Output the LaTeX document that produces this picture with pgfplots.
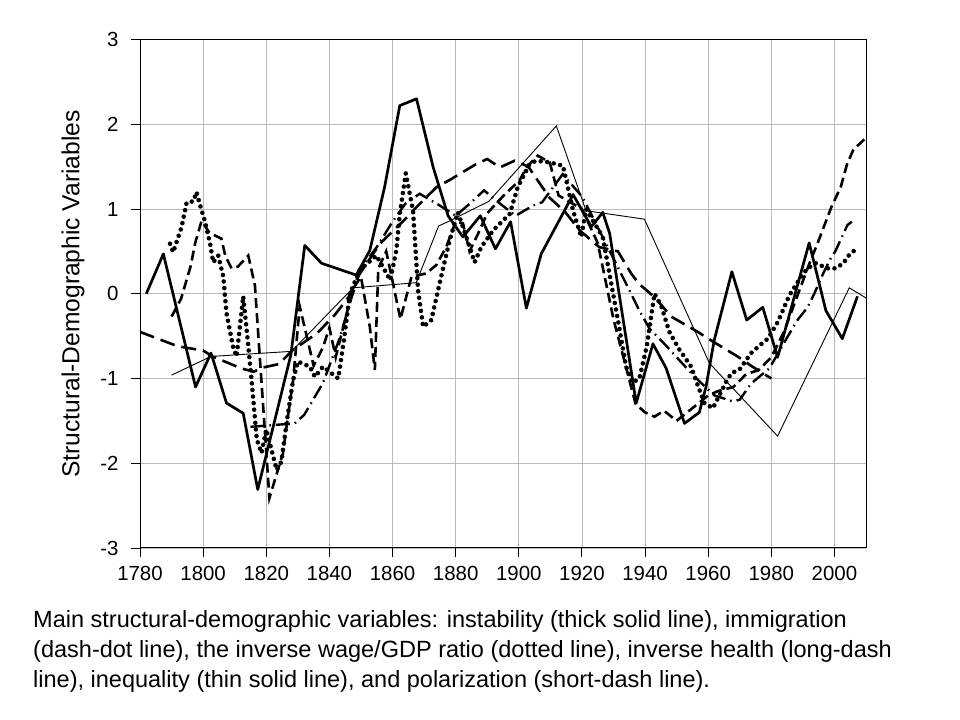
\documentclass[border=0pt]{standalone}
\usepackage{fontspec}
\setmainfont{Liberation Sans}
\usepackage{pgfplots}
\pgfplotsset{compat=1.18}
\begin{document}
\begin{tikzpicture}
\path[use as bounding box] (0,0) rectangle (960bp,720bp);
\begin{axis}[
  at={(140bp,172bp)}, anchor=south west,
  scale only axis, width=726bp, height=508.5bp,
  xmin=1780, xmax=2010, ymin=-3, ymax=3,
  xtick={1780,1800,...,2000},
  xticklabels={1780,1800,1820,1840,1860,1880,1900,1920,1940,1960,1980,2000},
  ytick={-3,-2,...,3},
  yticklabels={-3,-2,-1,0,1,2,3},
  xtick pos=left, ytick pos=left,
  tick align=outside, major tick length=9bp,
  tick style={black, line width=0.9bp},
  axis line style={black, line width=1bp},
  grid=major, major grid style={gray!55, line width=0.8bp},
  ticklabel style={font=\fontsize{20.5}{24}\selectfont},
  xticklabel style={anchor=base, yshift=-24bp},
  yticklabel style={anchor=east, xshift=-9bp},
  clip=true,
]
% instability: thick solid
\addplot[black, line width=2.7bp, line join=round] coordinates {
(1782,0.0)(1787.4,0.47)(1797.6,-1.10)(1802.5,-0.70)(1807.4,-1.29)(1812.7,-1.41)(1817.3,-2.31)(1827.8,-0.72)(1832.2,0.57)(1837.5,0.36)(1848.5,0.22)(1852.8,0.51)(1857.5,1.26)(1862.3,2.22)(1867.6,2.30)(1872.9,1.49)(1877.6,0.92)(1882.3,0.67)(1887.8,0.92)(1892.6,0.53)(1897.4,0.85)(1902.4,-0.17)(1907.1,0.47)(1917.2,1.17)(1923,0.79)(1926.6,0.96)(1928.8,0.71)(1937.2,-1.29)(1942.5,-0.59)(1946.7,-0.88)(1952.5,-1.53)(1957.2,-1.40)(1959.3,-1.10)(1961.9,-0.55)(1967.5,0.26)(1972.2,-0.31)(1977.3,-0.16)(1982,-0.75)(1992,0.60)(1997.3,-0.20)(2002.5,-0.53)(2007.3,-0.03)
};
% inequality: thin solid
\addplot[black, line width=0.9bp] coordinates {
(1790,-0.96)(1802.5,-0.74)(1815,-0.71)(1828,-0.68)(1847.5,0.07)(1867.5,0.13)(1874.6,0.80)(1877,0.84)(1890.5,1.09)(1911.9,1.98)(1921.3,0.98)(1939.8,0.88)(1960.4,-0.82)(1982,-1.68)(2004.7,0.07)(2010,-0.05)
};
% inverse wage/GDP: dotted
\addplot[black, line width=4.6bp, line cap=round, dash pattern=on 0bp off 6.6bp] coordinates {
(1789.5,0.59)(1790.5,0.49)(1793.2,0.79)(1794.8,1.08)(1796.9,1.09)(1797.9,1.20)(1799,1.05)(1800.6,0.85)(1802.2,0.59)(1803.2,0.37)(1804.8,0.45)(1806.4,0.2)(1807.4,-0.23)(1809.5,-0.63)(1810.6,-0.74)(1812.7,-0.03)(1814,-0.5)(1815.3,-1.0)(1817,-1.72)(1818.5,-1.88)(1820,-1.6)(1823.3,-2.08)(1824.8,-1.98)(1826.4,-1.53)(1828.5,-1.02)(1830,-0.8)(1833.8,-0.86)(1835.4,-0.98)(1838,-0.86)(1842.8,-1.0)(1844.4,-0.6)(1846.5,0.0)(1849.6,0.28)(1854.9,0.45)(1859.3,0.16)(1861.2,0.51)(1862.3,0.94)(1864.2,1.42)(1866.5,0.98)(1868.1,0.04)(1869.7,-0.39)(1872.3,-0.31)(1874.9,0.12)(1878.1,0.63)(1880.7,0.96)(1883.4,0.67)(1886,0.37)(1888.1,0.55)(1891.9,0.75)(1897.1,0.94)(1899.7,1.26)(1903.4,1.53)(1905.5,1.57)(1909.8,1.55)(1914,1.51)(1917.2,0.98)(1919.8,0.67)(1921.3,1.0)(1926.6,0.67)(1931.4,-0.31)(1934,-0.86)(1936,-1.05)(1938.2,-1.0)(1940.5,-0.63)(1943,0.0)(1945.1,-0.14)(1947.7,-0.45)(1950.9,-0.66)(1954.6,-0.86)(1956.7,-1.08)(1958.8,-1.29)(1961.5,-1.35)(1965.7,-1.04)(1967.3,-0.94)(1970,-0.89)(1973.6,-0.70)(1976.3,-0.61)(1978.9,-0.53)(1982.1,-0.33)(1985.7,-0.02)(1989.4,0.2)(1991.5,0.3)(1994.1,0.36)(1997.8,0.30)(2000.4,0.30)(2002.8,0.36)(2004.7,0.46)(2007.3,0.54)
};
% inverse health: long dash
\addplot[black, line width=2.6bp, dash pattern=on 15bp off 7bp] coordinates {
(1780,-0.45)(1787,-0.55)(1792,-0.62)(1800,-0.67)(1803,-0.74)(1812,-0.88)(1816,-0.92)(1819,-0.87)(1824,-0.83)(1828.5,-0.66)(1836,-0.47)(1841.7,-0.25)(1846.5,-0.02)(1849,0.2)(1856,0.59)(1864,0.88)(1867,1.0)(1874,1.26)(1878,1.34)(1886.5,1.53)(1890,1.59)(1894,1.49)(1898.7,1.57)(1903,1.5)(1909.8,1.13)(1914.6,0.97)(1919.2,0.75)(1925.5,0.55)(1931.4,0.5)(1935.6,0.24)(1938,0.12)(1943,-0.04)(1948.3,-0.27)(1956.7,-0.45)(1960.9,-0.55)(1969.3,-0.74)(1974,-0.86)(1980,-1.0)
};
% immigration: dash-dot
\addplot[black, line width=2.4bp, dash pattern=on 14bp off 5bp on 1.5bp off 5bp] coordinates {
(1815,-1.57)(1829,-1.53)(1832,-1.43)(1838,-1.05)(1843,-0.55)(1847,-0.05)(1850,0.3)(1855,0.55)(1860,0.85)(1864,1.06)(1868.6,1.18)(1875,1.04)(1880,0.92)(1884.4,1.06)(1889,1.22)(1893.5,1.08)(1899,0.92)(1904.5,1.04)(1907.4,1.08)(1913.9,1.41)(1920.2,1.14)(1935.6,0.0)(1938.2,-0.2)(1941.4,-0.41)(1946.1,-0.59)(1949.8,-0.74)(1955.7,-0.98)(1962,-1.2)(1967.8,-1.27)(1970,-1.25)(1973.6,-1.06)(1979.4,-0.88)(1985.1,-0.51)(1988.3,-0.31)(1991.5,-0.16)(1993.6,0.0)(1996.2,0.22)(1998.4,0.39)(2000.4,0.51)(2004.1,0.81)(2005.5,0.85)
};
% polarization: short dash
\addplot[black, line width=2.6bp, dash pattern=on 10bp off 5bp] coordinates {
(1790,-0.27)(1793,-0.06)(1796,0.32)(1797.5,0.6)(1799.5,0.86)(1802,0.72)(1805.8,0.65)(1807,0.45)(1809,0.3)(1811,0.32)(1814.3,0.45)(1816.4,0.1)(1821,-2.41)(1825.3,-1.88)(1827,-1.41)(1828.5,-1.02)(1830.6,-0.15)(1832.5,-0.45)(1835,-0.85)(1838,-0.63)(1840,-0.4)(1842,-0.75)(1844.4,-0.39)(1847.5,0.06)(1850,0.2)(1852.8,-0.39)(1854.4,-0.9)(1855.5,0.3)(1858,0.5)(1860,0.15)(1862.5,-0.3)(1866,0.2)(1870.7,0.24)(1873.9,0.34)(1877,0.55)(1880,0.85)(1882.3,0.83)(1884.4,0.5)(1887,0.7)(1890,0.95)(1895,1.15)(1900.3,1.34)(1902.4,1.49)(1906,1.63)(1909.8,1.55)(1912.6,1.16)(1920,1.0)(1925,0.6)(1930,-0.3)(1937,-1.3)(1940,-1.4)(1943,-1.45)(1946,-1.38)(1950,-1.5)(1955,-1.35)(1960,-1.2)(1963,-1.15)(1968,-1.1)(1972,-0.95)(1976,-0.9)(1980,-0.75)(1984,-0.45)(1988,-0.05)(1992,0.35)(1995,0.63)(1999,1.02)(2002,1.26)(2004,1.53)(2006,1.7)(2010,1.84)
};
\end{axis}
\node[rotate=90, font=\fontsize{24.7}{29}\selectfont] at (73bp,426bp) {Structural-Demographic Variables};
\begin{scope}[every node/.style={anchor=base west, inner sep=0pt, font=\fontsize{23.6}{28}\selectfont}]
\node at (33bp,92bp) {Main structural-demographic variables: instability (thick solid line), immigration};
\node at (33bp,62bp) {(dash-dot line), the inverse wage/GDP ratio (dotted line), inverse health (long-dash};
\node at (33bp,33bp) {line), inequality (thin solid line), and polarization (short-dash line).};
\end{scope}
\end{tikzpicture}
\end{document}
